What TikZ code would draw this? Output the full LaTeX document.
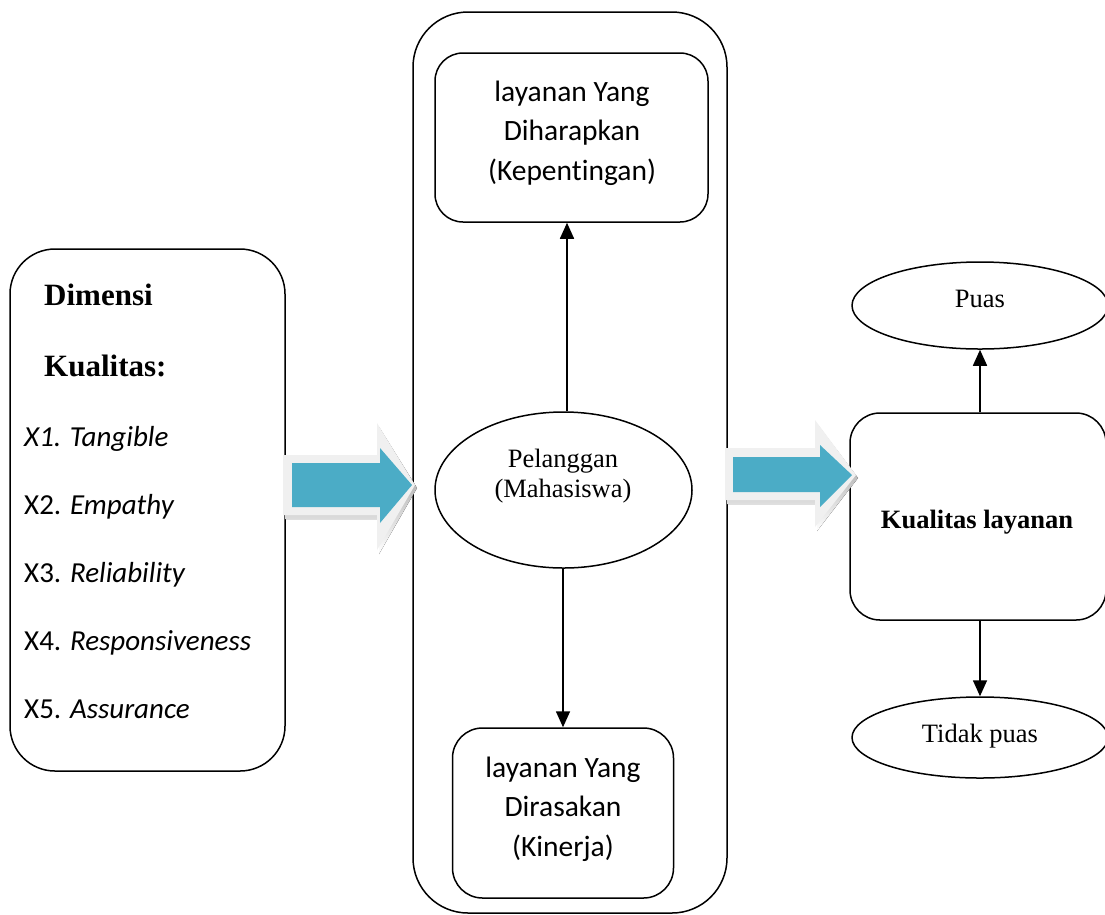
\documentclass[tikz,border=0pt]{standalone}
\usepackage{fontspec}
\setmainfont{Liberation Serif}
\newfontfamily\calfont[Ligatures=NoCommon]{Carlito}
\usetikzlibrary{shapes.geometric,arrows.meta,calc}
\definecolor{teal5}{HTML}{4BACC6}
\definecolor{glow}{HTML}{F0F0F0}
\definecolor{shade}{HTML}{A3ACB0}
\begin{document}
\begin{tikzpicture}[x=1pt,y=-1pt,
  rbox/.style={draw, line width=1.5pt, inner sep=0pt},
  oval/.style={draw, ellipse, line width=1.5pt, inner sep=0pt},
  conn/.style={line width=1.6pt, -{Triangle[width=14pt,length=16pt]}},
  caltext/.style={font=\calfont\fontsize{29.5}{39.5}\selectfont, inner sep=0pt, align=center},
  timtext/.style={font=\fontsize{26.5}{30}\selectfont, inner sep=0pt, align=center},
  dimtext/.style={font=\bfseries\fontsize{31}{36}\selectfont, inner sep=0pt, anchor=base west},
  xtext/.style={font=\calfont\fontsize{29}{34}\selectfont, inner sep=0pt, anchor=base west}]
\clip (0,0) rectangle (1105,914);
\fill[white] (0,0) rectangle (1105,914);

% left box
\node[rbox, rounded corners=45pt, minimum width=275pt, minimum height=522pt] (dim) at (147.5,510) {};
\node[dimtext] (t1) at (44,305) {Dimensi};
\node[dimtext] (t2) at (44,376) {Kualitas:};
\node[xtext] (x1) at (24,446) {\itshape X1. Tangible};
\node[xtext] (x2) at (24,514) {X2. \textit{Empathy}};
\node[xtext] (x3) at (24,582) {X3. \textit{Reliability}};
\node[xtext] (x4) at (24,650) {X4. \textit{Responsiveness}};
\node[xtext] (x5) at (24,718) {X5. \textit{Assurance}};

% center container
\node[rbox, rounded corners=55pt, minimum width=314pt, minimum height=901pt] (cont) at (570,462.5) {};
\node[rbox, rounded corners=28pt, minimum width=273pt, minimum height=169pt] (top) at (571.5,137.5) {};
\node[caltext] (toptext) at (572,133) {layanan Yang\\Diharapkan\\(Kepentingan)};
\node[rbox, rounded corners=30pt, minimum width=221pt, minimum height=170pt] (bot) at (563,813) {};
\node[caltext] (bottext) at (563,809) {layanan Yang\\Dirasakan\\(Kinerja)};
\node[oval, minimum width=257pt, minimum height=156pt] (pel) at (563.5,490) {};
\node[timtext] (peltext) at (563,476) {Pelanggan\\(Mahasiswa)};

% right side
\node[rbox, rounded corners=30pt, minimum width=256pt, minimum height=207pt] (kual) at (978,516.5) {};
\node[font=\bfseries\fontsize{26.5}{30}\selectfont, inner sep=0pt, anchor=base] (kualtext) at (977,528) {Kualitas layanan};
\node[oval, minimum width=256pt, minimum height=87pt] (puas) at (980,305.5) {};
\node[timtext, anchor=base] (puastext) at (980,307) {Puas};
\node[oval, minimum width=256pt, minimum height=81pt] (tidak) at (980,737.5) {};
\node[timtext, anchor=base] (tidaktext) at (980,742) {Tidak puas};

% connectors
\draw[conn] ([xshift=3.5pt]pel.north) -- ([xshift=3.5pt]pel.north |- top.south);
\draw[conn] ([xshift=-0.5pt]pel.south) -- ([xshift=-0.5pt]pel.south |- bot.north);
\draw[conn] (puas.south |- kual.north) -- (puas.south);
\draw[conn] (tidak.north |- kual.south) -- (tidak.north);

% block arrow 1
\fill[shade] (285,459) -- (379,459) -- (379,427) -- (417,488) -- (379,554) -- (379,519) -- (285,519) -- cycle;
\fill[glow] (283,455) -- (377,455) -- (377,423) -- (415,485) -- (377,550) -- (377,515) -- (283,515) -- cycle;
\fill[teal5] (292,463) -- (380,463) -- (380,448) -- (412,485) -- (380,523) -- (380,507) -- (292,507) -- cycle;

% block arrow 2
\fill[shade] (727,452) -- (817,452) -- (817,424) -- (858,478) -- (817,531) -- (817,504) -- (727,504) -- cycle;
\fill[glow] (725,448) -- (815,448) -- (815,420) -- (856,475) -- (815,527) -- (815,500) -- (725,500) -- cycle;
\fill[teal5] (733,457) -- (820,457) -- (820,445) -- (852,475) -- (820,507) -- (820,492) -- (733,492) -- cycle;
\end{tikzpicture}
\end{document}
